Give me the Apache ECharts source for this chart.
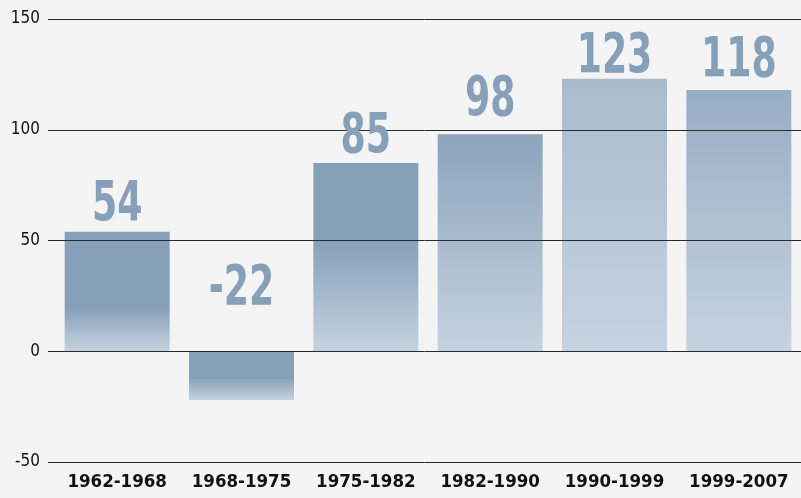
<!DOCTYPE html>
<html>
<head>
<meta charset="utf-8">
<script src="https://cdn.jsdelivr.net/npm/echarts@6/dist/echarts.min.js"></script>
<style>
  html, body { margin: 0; padding: 0; background: #f4f4f4; }
  #chart { width: 801px; height: 498px; }
</style>
</head>
<body>
<div id="chart"></div>
<script>
const periods = ['1962-1968', '1968-1975', '1975-1982', '1982-1990', '1990-1999', '1999-2007'];
const values = [54, -22, 85, 98, 123, 118];
const yTicks = [-50, 0, 50, 100, 150];

// top colour of each bar's fade, and where (0..1 down the bar) the fade starts
const topColors = ['#86a0b9', '#86a0b9', '#86a0b9', '#8ba4bc', '#a9bbcd', '#98aec4'];
const fadeStart = [0.64, 0.55, 0.41, 0, 0, 0];
// gap in px between bar top (or zero line) and the value label
const labelGap = [8, 44, 8, 16, 3, 10];

const FONT = '"DejaVu Sans Condensed", "DejaVu Sans", sans-serif';

const chart = echarts.init(document.getElementById('chart'), null, { renderer: 'canvas' });

chart.setOption({
  backgroundColor: '#f4f4f4',
  animation: false,
  grid: [
    { left: 55, width: 748, top: 19, bottom: 36 },
    { left: 48, right: 0, top: 19, bottom: 36 },
  ],
  xAxis: [{
    type: 'category',
    gridIndex: 0,
    data: periods,
    axisLine: { show: false, onZero: false },
    axisTick: { show: false },
    axisLabel: { interval: 0, margin: 11, color: '#111', fontFamily: FONT, fontWeight: 'bold', fontSize: 18.5 },
  }, {
    type: 'value', gridIndex: 1, min: 0, max: 1, show: false,
  }],
  yAxis: [{
    type: 'value', gridIndex: 0, min: -50, max: 150, interval: 50, show: false,
  }, {
    type: 'value', gridIndex: 1, min: -50, max: 150, interval: 50, z: 5,
    axisLine: { show: false },
    axisTick: { show: false },
    axisLabel: {
      margin: 8, color: '#111', fontFamily: FONT, fontSize: 17,
      formatter: v => yTicks.includes(v) ? String(v) : '',
    },
    splitLine: { lineStyle: { color: '#2a2a2a', width: 1 } },
  }],
  series: [{
    type: 'bar',
    xAxisIndex: 0,
    yAxisIndex: 0,
    barWidth: 105,
    data: values.map((v, i) => ({
      value: v,
      itemStyle: {
        color: new echarts.graphic.LinearGradient(0, 0, 0, 1, [
          { offset: 0, color: topColors[i] },
          { offset: fadeStart[i], color: topColors[i] },
          { offset: 1, color: '#c6d3e0' },
        ]),
      },
    })),
  }, {
    // value labels, squeezed horizontally to mimic a condensed display face
    type: 'custom',
    xAxisIndex: 0,
    yAxisIndex: 0,
    z: 10,
    data: values.map((v, i) => [i, v]),
    renderItem: (params, api) => {
      const i = api.value(0);
      const v = api.value(1);
      const p = api.coord([i, Math.max(v, 0)]);
      return {
        type: 'text',
        x: p[0],
        y: p[1] - labelGap[i] - 18,
        scaleX: 0.72,
        style: {
          text: String(v),
          fill: '#87a0b9',
          font: 'bold 56px ' + FONT,
          align: 'center',
          verticalAlign: 'middle',
        },
      };
    },
  }],
});
</script>
</body>
</html>
